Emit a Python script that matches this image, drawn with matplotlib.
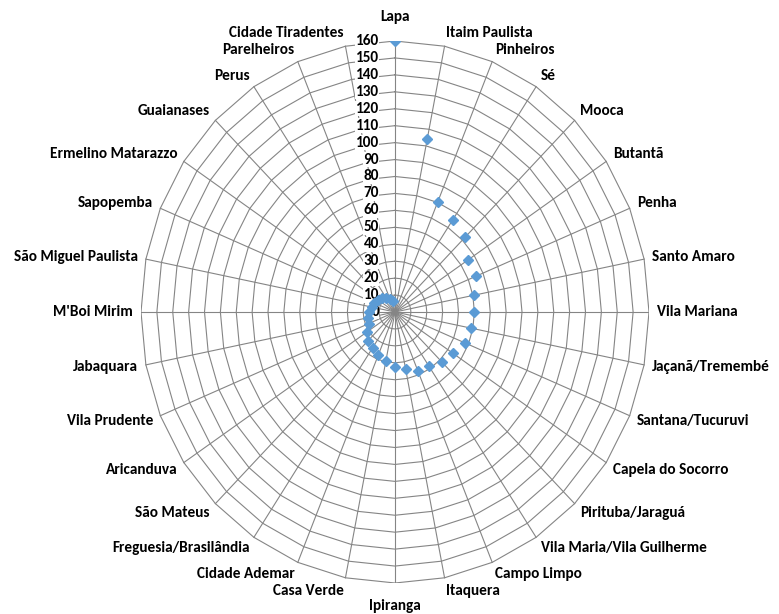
import numpy as np
import matplotlib
matplotlib.use("Agg")
import matplotlib.pyplot as plt

plt.rcParams['font.family'] = ['Carlito', 'Lato', 'DejaVu Sans']

# === DADOS ===
categorias = [
    "Lapa", "Itaim Paulista", "Pinheiros", "Sé", "Mooca", "Butantã", "Penha",
    "Santo Amaro", "Vila Mariana", "Jaçanã/Tremembé", "Santana/Tucuruvi",
    "Capela do Socorro", "Pirituba/Jaraguá", "Vila Maria/Vila Guilherme",
    "Campo Limpo", "Itaquera", "Ipiranga", "Casa Verde", "Cidade Ademar",
    "Freguesia/Brasilândia", "São Mateus", "Aricanduva", "Vila Prudente",
    "Jabaquara", "M'Boi Mirim", "São Miguel Paulista", "Sapopemba",
    "Ermelino Matarazzo", "Guaianases", "Perus", "Parelheiros",
    "Cidade Tiradentes",
]
valores = [
    160, 104, 70.5, 65.5, 62.5, 55.5, 55.5, 50.5, 49.5, 49, 48, 44, 42, 38,
    37.5, 34.5, 32.5, 29.5, 27.5, 25.5, 24, 21.5, 18, 17.5, 16.5, 15, 14,
    13, 11.5, 10, 8.5, 6.5,
]
escala = list(range(0, 161, 10))

COR_GRADE = "#858585"
COR_PONTO = "#5B9BD5"

n = len(categorias)
theta = 2 * np.pi * np.arange(n) / n
sx, cy = np.sin(theta), np.cos(theta)

fig = plt.figure(figsize=(7.79, 6.14), dpi=100)
# eixo levemente achatado na horizontal, como no original
ax = fig.add_axes([141 / 779, 31 / 614, 508 / 779, 542 / 614])
ax.set_xlim(-160, 160)
ax.set_ylim(-160, 160)
ax.axis("off")

# grade poligonal (estilo radar do Excel)
for r in escala[1:]:
    ax.plot(np.append(r * sx, r * sx[0]), np.append(r * cy, r * cy[0]),
            color=COR_GRADE, lw=0.8, zorder=1)
for s, c in zip(sx, cy):
    ax.plot([0, 160 * s], [0, 160 * c], color=COR_GRADE, lw=0.8, zorder=1)

# pontos
v = np.array(valores)
ax.plot(v * sx, v * cy, ls="none", marker="D", ms=5.3, color=COR_PONTO, zorder=3)

# rótulos do eixo de valores
for r in escala:
    ax.annotate(str(r), xy=(0, r), xytext=(-16, 0), textcoords="offset pixels",
                ha="right", va="center", fontsize=11, fontweight="bold",
                bbox=dict(facecolor="white", edgecolor="none", pad=0.3),
                zorder=2)

# rótulos das categorias
for nome, s, c in zip(categorias, sx, cy):
    if abs(s) < 0.01:
        ha = "center"
        dy = 24 if c > 0 else -23
        dx = 0
    else:
        ha = "left" if s > 0 else "right"
        dx = 8 * s
        dy = 13 * c
    ax.annotate(nome, xy=(160 * s, 160 * c), xytext=(dx, dy),
                textcoords="offset pixels", ha=ha, va="center",
                fontsize=11, fontweight="bold", zorder=2)

fig.savefig("out.png", dpi=100)
